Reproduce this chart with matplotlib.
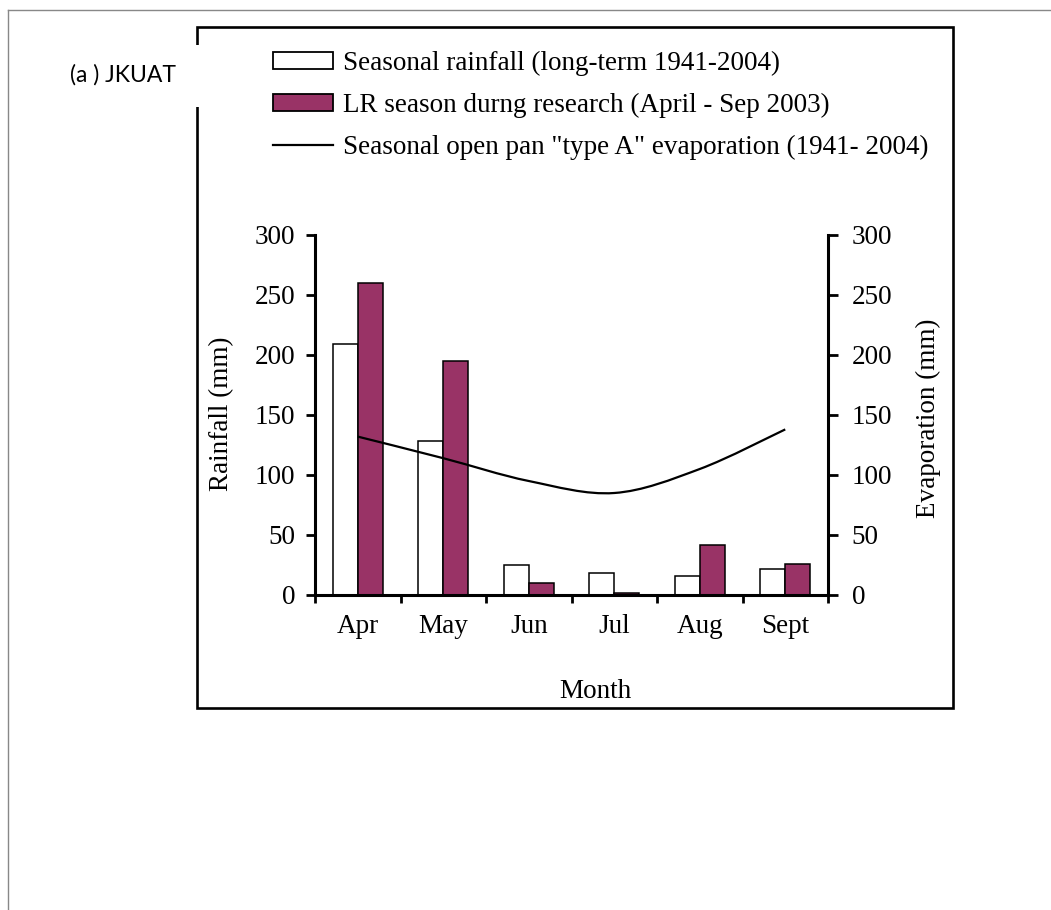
import numpy as np
import matplotlib
matplotlib.use('Agg')
import matplotlib.pyplot as plt
from matplotlib.patches import Rectangle, Patch, PathPatch
from matplotlib.lines import Line2D
from matplotlib.path import Path

months = ['Apr', 'May', 'Jun', 'Jul', 'Aug', 'Sept']
rain_longterm = [209, 128, 25, 18, 16, 22]
rain_2003 = [260, 195, 10, 2, 42, 26]
evaporation = [132, 114, 95, 85, 105, 138]

W, H = 1051, 910
serif = 'Liberation Serif'
plum = '#993366'
fs = 19.5

def fx(px):
    return px / W

def fy(py):
    return 1 - py / H

fig = plt.figure(figsize=(W / 100, H / 100), dpi=100)
fig.patch.set_facecolor('white')

ax = fig.add_axes([fx(315), fy(595), fx(828) - fx(315), fy(235) - fy(595)])
ax2 = ax.twinx()

x = np.arange(len(months))
bw = 0.29
ax.bar(x - bw / 2, rain_longterm, bw, color='white', edgecolor='black', linewidth=1.1, zorder=2)
ax.bar(x + bw / 2, rain_2003, bw, color=plum, edgecolor='black', linewidth=1.1, zorder=2)

# smoothed evaporation curve (cubic bezier through monthly points)
pts = np.column_stack([x, evaporation]).astype(float)
ext = np.vstack([pts[0], pts, pts[-1]])
verts = [tuple(pts[0])]
codes = [Path.MOVETO]
for i in range(len(pts) - 1):
    p0, p1, p2, p3 = ext[i], ext[i + 1], ext[i + 2], ext[i + 3]
    c1 = p1 + (p2 - p0) / 6
    c2 = p2 - (p3 - p1) / 6
    verts += [tuple(c1), tuple(c2), tuple(p2)]
    codes += [Path.CURVE4] * 3
ax2.add_patch(PathPatch(Path(verts, codes), fill=False, edgecolor='black', linewidth=1.6, zorder=3))

for a in (ax, ax2):
    a.set_xlim(-0.5, 5.5)
    a.set_ylim(0, 300)
    a.set_yticks(range(0, 301, 50))
    a.spines['top'].set_visible(False)
    for s in ('left', 'right', 'bottom'):
        a.spines[s].set_linewidth(2.2)

ax.spines['right'].set_visible(False)
ax2.spines['left'].set_visible(False)
ax2.spines['bottom'].set_visible(False)

ax.set_xticks(np.arange(-0.5, 6, 1))
ax.set_xticklabels([])
ax.set_xticks(x, minor=True)
ax.set_xticklabels(months, minor=True, fontsize=fs, family=serif)
ax.tick_params(axis='x', which='major', direction='out', length=6, width=2)
ax.tick_params(axis='x', which='minor', length=0, pad=14)
ax.tick_params(axis='y', direction='out', length=6.5, width=2, pad=7.5, labelsize=fs)
ax2.tick_params(axis='y', direction='out', length=7, width=2, pad=10, labelsize=fs)
for lab in ax.get_yticklabels() + ax2.get_yticklabels():
    lab.set_family(serif)

fig.text(fx(222), fy(414), 'Rainfall (mm)', rotation=90, ha='center', va='center',
         fontsize=fs, family=serif)
fig.text(fx(928), fy(418), 'Evaporation (mm)', rotation=90, ha='center', va='center',
         fontsize=fs, family=serif)
fig.text(fx(595), fy(698), 'Month', ha='center', va='baseline', fontsize=fs, family=serif)

handles = [
    Patch(facecolor='white', edgecolor='black', linewidth=1.3),
    Patch(facecolor=plum, edgecolor='black', linewidth=1.3),
    Line2D([], [], color='black', linewidth=1.6),
]
labels = [
    'Seasonal rainfall (long-term 1941-2004)',
    'LR season durng research (April - Sep 2003)',
    'Seasonal open pan "type A" evaporation (1941- 2004)',
]
fig.legend(handles, labels, loc='upper left', bbox_to_anchor=(fx(273), fy(51)),
           frameon=False, prop={'family': serif, 'size': fs}, handlelength=2.2,
           handleheight=0.63, handletextpad=0.37, labelspacing=0.62, borderpad=0,
           borderaxespad=0)

# outer frame around the chart panel
fig.add_artist(Rectangle((fx(197), fy(708)), fx(953) - fx(197), fy(27) - fy(708),
                         transform=fig.transFigure, fill=False, edgecolor='black',
                         linewidth=1.9, zorder=5))
fig.add_artist(Rectangle((fx(40), fy(107)), fx(200) - fx(40), fy(45) - fy(107),
                         transform=fig.transFigure, facecolor='white', edgecolor='none',
                         zorder=6))
fig.text(fx(176), fy(75), '(a ) JKUAT', ha='right', va='center', fontsize=16.5,
         family='Lato', zorder=7)

# page edges
fig.add_artist(Line2D([fx(8), 1], [fy(10), fy(10)], transform=fig.transFigure,
                      color='#888888', linewidth=1))
fig.add_artist(Line2D([fx(8), fx(8)], [0, fy(10)], transform=fig.transFigure,
                      color='#888888', linewidth=1))

fig.savefig('out.png', dpi=100)
